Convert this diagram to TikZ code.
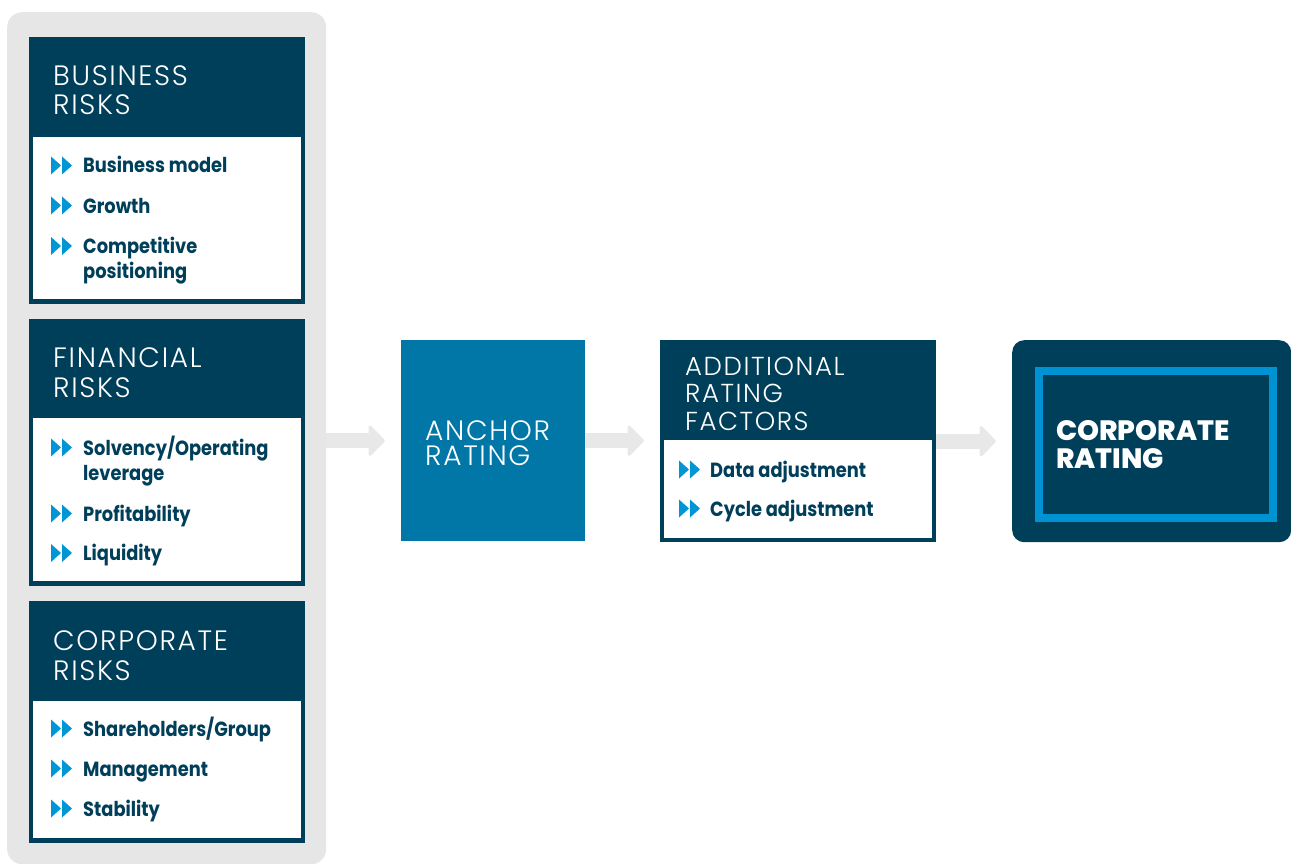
\documentclass[tikz,border=0pt]{standalone}
\usepackage{fontspec}
\usetikzlibrary{arrows.meta,calc}
\newfontfamily\hdfont{Poppins Light}[LetterSpace=6]
\newfontfamily\itfont{Poppins Bold}[FakeStretch=0.87]
\newfontfamily\bkfont{Poppins ExtraBold}
\definecolor{navy}{HTML}{003F5A}
\definecolor{bullet}{HTML}{0096D6}
\definecolor{anchorblue}{HTML}{0077A6}
\definecolor{framecyan}{HTML}{0093D3}
\definecolor{panelgray}{HTML}{E6E6E6}
\definecolor{arrowgray}{HTML}{E8E8E8}
\tikzset{
  panelbox/.style={fill=panelgray, rounded corners=15pt, anchor=north west, inner sep=0},
  outerbox/.style={fill=navy, anchor=north west, inner sep=0},
  innerbox/.style={fill=white, anchor=north west, inner sep=0},
  hdr/.style={anchor=base west, align=left, inner sep=0, text=white,
    font=\hdfont\fontsize{28}{29.5}\selectfont},
  item/.style={anchor=base west, align=left, inner sep=0, text=navy,
    font=\itfont\fontsize{20.5}{25}\selectfont},
  flow/.style={draw=arrowgray, line width=15pt, shorten >=16pt,
    -{Triangle[length=17pt, width=34pt, line width=3pt, round]}},
  dbl/.pic={
    \fill[bullet] (0,-9) -- (10,0) -- (0,9) -- cycle;
    \fill[bullet] (11,-9) -- (21,0) -- (11,9) -- cycle;
  }
}
\begin{document}
\begin{tikzpicture}[x=1pt, y=-1pt]
\useasboundingbox (0,0) rectangle (1291,864);

% grey panel holding the three risk groups
\node[panelbox, minimum width=319, minimum height=852] (panel) at (7,12) {};

% business risks (multi-line texts sit on the baseline of their last line)
\node[outerbox, minimum width=276, minimum height=267] (bus) at (29,37) {};
\node[innerbox, minimum width=268, minimum height=162] (busw) at (33,137) {};
\node[hdr] (bush) at (53,115) {BUSINESS\\RISKS};
\pic at (51,165.5) {dbl};
\node[item] (bus1) at (83,173) {Business model};
\pic at (51,205.5) {dbl};
\node[item] (bus2) at (83,213) {Growth};
\pic at (51,246) {dbl};
\node[item] (bus3) at (83,278.5) {Competitive\\positioning};

% financial risks
\node[outerbox, minimum width=276, minimum height=267] (fin) at (29,319) {};
\node[innerbox, minimum width=268, minimum height=163] (finw) at (33,418) {};
\node[hdr] (finh) at (53,397) {FINANCIAL\\RISKS};
\pic at (51,447.5) {dbl};
\node[item] (fin1) at (83,480) {Solvency/Operating\\leverage};
\pic at (51,513.5) {dbl};
\node[item] (fin2) at (83,521) {Profitability};
\pic at (51,553) {dbl};
\node[item] (fin3) at (83,560.5) {Liquidity};

% corporate risks
\node[outerbox, minimum width=276, minimum height=242] (cor) at (29,601) {};
\node[innerbox, minimum width=268, minimum height=137] (corw) at (33,701) {};
\node[hdr] (corh) at (53,680) {CORPORATE\\RISKS};
\pic at (51,728.5) {dbl};
\node[item] (cor1) at (83,736) {Shareholders/Group};
\pic at (51,768.5) {dbl};
\node[item] (cor2) at (83,776) {Management};
\pic at (51,808.5) {dbl};
\node[item] (cor3) at (83,816) {Stability};

% anchor rating
\node[fill=anchorblue, anchor=north west, inner sep=0,
  minimum width=184, minimum height=201] (anc) at (401,340) {};
\node[hdr, font=\hdfont\fontsize{28}{25}\selectfont] (anch) at (425,465) {ANCHOR\\RATING};

% additional rating factors
\node[outerbox, minimum width=276, minimum height=202] (add) at (660,340) {};
\node[innerbox, minimum width=268, minimum height=98] (addw) at (664,440) {};
\node[hdr, font=\hdfont\fontsize{26}{27.5}\selectfont] (addh) at (685,430) {ADDITIONAL\\RATING\\FACTORS};
\pic at (679,469.5) {dbl};
\node[item] (add1) at (710,477) {Data adjustment};
\pic at (679,508.5) {dbl};
\node[item] (add2) at (710,516) {Cycle adjustment};

% corporate rating
\node[fill=navy, rounded corners=12pt, anchor=north west, inner sep=0,
  minimum width=279, minimum height=202] (rat) at (1012,340) {};
\node[draw=framecyan, line width=8pt, anchor=north west, inner sep=0,
  minimum width=234, minimum height=147] (ratf) at (1035,367) {};
\node[anchor=base west, align=left, inner sep=0, text=white,
  font=\bkfont\fontsize{28}{28}\selectfont] (rath) at (1056,468) {CORPORATE\\RATING};

% flow arrows
\draw[flow] (panel.east |- anc.west) -- (anc.west);
\draw[flow] (anc.east) -- (add.west |- anc.east);
\draw[flow] (add.east |- rat.west) -- (rat.west);
\end{tikzpicture}
\end{document}
